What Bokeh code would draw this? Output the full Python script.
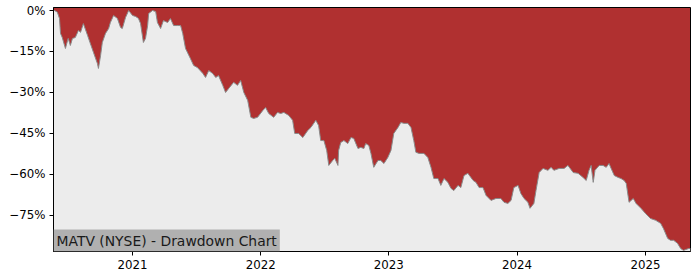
import pandas as pd
from bokeh.plotting import figure
from bokeh.models import FixedTicker, DatetimeTickFormatter, Label, Range1d
from bokeh.embed import file_html
from bokeh.resources import INLINE

dates = [
    "2020-05-21", "2020-05-24", "2020-06-01", "2020-06-07", "2020-06-10", "2020-06-15", "2020-06-24",
    "2020-06-30", "2020-07-02", "2020-07-08", "2020-07-14", "2020-07-22", "2020-07-31", "2020-08-06",
    "2020-08-14", "2020-08-26", "2020-09-03", "2020-09-12", "2020-09-23", "2020-09-26", "2020-10-02",
    "2020-10-07", "2020-10-16", "2020-10-25", "2020-10-30", "2020-11-08", "2020-11-19", "2020-11-28",
    "2020-12-03", "2020-12-12", "2020-12-21", "2021-01-01", "2021-01-10", "2021-01-18", "2021-01-24",
    "2021-02-01", "2021-02-07", "2021-02-13", "2021-02-16", "2021-02-27", "2021-03-08", "2021-03-13",
    "2021-03-22", "2021-03-30", "2021-04-11", "2021-04-19", "2021-04-28", "2021-05-09", "2021-05-18",
    "2021-05-24", "2021-06-01", "2021-06-15", "2021-06-24", "2021-07-05", "2021-07-20", "2021-07-28",
    "2021-08-06", "2021-08-17", "2021-08-26", "2021-09-03", "2021-09-15", "2021-09-23", "2021-10-02",
    "2021-10-16", "2021-10-27", "2021-11-05", "2021-11-14", "2021-11-25", "2021-12-04", "2021-12-12",
    "2021-12-23", "2022-01-07", "2022-01-15", "2022-01-24", "2022-02-07", "2022-02-18", "2022-02-27",
    "2022-03-08", "2022-03-22", "2022-04-02", "2022-04-08", "2022-04-19", "2022-05-01", "2022-05-15",
    "2022-05-24", "2022-06-07", "2022-06-15", "2022-06-21", "2022-06-30", "2022-07-08", "2022-07-14",
    "2022-07-25", "2022-07-31", "2022-08-09", "2022-08-11", "2022-08-17", "2022-08-26", "2022-09-06",
    "2022-09-15", "2022-09-23", "2022-10-05", "2022-10-13", "2022-10-22", "2022-10-27", "2022-11-05",
    "2022-11-11", "2022-11-19", "2022-12-01", "2022-12-09", "2022-12-18", "2022-12-29", "2023-01-07",
    "2023-01-15", "2023-01-27", "2023-02-04", "2023-02-13", "2023-02-24", "2023-03-05", "2023-03-13",
    "2023-03-19", "2023-03-28", "2023-04-11", "2023-04-22", "2023-05-01", "2023-05-09", "2023-05-21",
    "2023-05-29", "2023-06-07", "2023-06-18", "2023-06-27", "2023-07-05", "2023-07-17", "2023-07-25",
    "2023-08-03", "2023-08-14", "2023-08-29", "2023-09-06", "2023-09-15", "2023-09-26", "2023-10-05",
    "2023-10-19", "2023-11-02", "2023-11-16", "2023-11-25", "2023-12-06", "2023-12-15", "2023-12-23",
    "2024-01-04", "2024-01-12", "2024-01-21", "2024-02-01", "2024-02-07", "2024-02-18", "2024-02-24",
    "2024-03-04", "2024-03-15", "2024-03-29", "2024-04-07", "2024-04-15", "2024-04-30", "2024-05-14",
    "2024-05-25", "2024-06-09", "2024-06-23", "2024-07-07", "2024-07-16", "2024-07-24", "2024-07-30",
    "2024-08-05", "2024-08-10", "2024-08-22", "2024-09-02", "2024-09-11", "2024-09-19", "2024-09-25",
    "2024-10-04", "2024-10-15", "2024-10-23", "2024-11-01", "2024-11-07", "2024-11-15", "2024-11-27",
    "2024-12-05", "2024-12-19", "2025-01-01", "2025-01-15", "2025-01-30", "2025-02-13", "2025-02-21",
    "2025-03-05", "2025-03-13", "2025-03-22", "2025-04-02", "2025-04-11", "2025-04-19", "2025-05-04",
    "2025-05-09",
]

drawdown = [
    0.0, 0.0, -0.6, -2.9, -8.4, -9.9, -13.9,
    -11.0, -10.2, -12.8, -10.2, -9.9, -7.3, -8.0,
    -4.8, -9.1, -12.1, -15.4, -19.4, -21.2, -16.5,
    -11.7, -8.4, -6.6, -4.4, -1.8, -2.9, -6.2,
    -6.6, -2.6, 0.0, -1.8, -2.2, -2.9, -4.8,
    -11.7, -10.2, -5.5, -1.1, 0.0, -0.4, -4.4,
    -6.6, -3.7, -4.4, -2.9, -5.5, -5.5, -5.5,
    -8.4, -13.9, -17.6, -20.1, -20.9, -23.0, -24.5,
    -22.0, -23.0, -24.5, -23.8, -27.4, -30.0, -28.5,
    -26.3, -27.4, -25.6, -30.0, -32.9, -39.1, -39.5,
    -39.1, -36.6, -35.5, -37.7, -39.1, -37.3, -37.7,
    -37.3, -38.4, -40.2, -45.0, -45.0, -46.5, -43.9,
    -42.8, -40.2, -42.1, -47.6, -47.6, -51.2, -56.7,
    -54.9, -54.1, -56.7, -51.2, -48.3, -47.6, -48.7,
    -46.5, -46.8, -50.5, -50.1, -50.5, -48.7, -49.4,
    -52.3, -57.4, -54.9, -54.9, -56.0, -53.8, -51.2,
    -45.0, -42.8, -41.0, -41.3, -41.3, -42.8, -47.6,
    -51.9, -52.3, -52.3, -53.8, -57.4, -61.5, -61.5,
    -64.0, -61.5, -62.9, -65.1, -65.9, -64.0, -64.8,
    -60.4, -59.6, -62.2, -62.9, -64.8, -64.8, -67.7,
    -69.5, -68.8, -68.8, -70.2, -70.6, -69.5, -64.8,
    -64.0, -67.0, -68.8, -70.2, -72.4, -70.6, -65.9,
    -59.3, -57.8, -58.5, -57.4, -58.5, -57.8, -57.8,
    -56.7, -59.3, -59.6, -61.1, -62.2, -58.5, -56.7,
    -62.9, -58.5, -56.7, -56.7, -57.4, -56.0, -57.8,
    -60.4, -61.1, -61.5, -62.2, -63.3, -70.2, -68.8,
    -70.6, -72.4, -74.3, -76.1, -76.8, -77.9, -79.8,
    -83.4, -84.1, -84.1, -85.2, -87.1, -87.8, -87.1,
    -87.1,
]

ytick_values = [0, -15, -30, -45, -60, -75]
ytick_labels = ["0%", "\u221215%", "\u221230%", "\u221245%", "\u221260%", "\u221275%"]
xtick_dates = ["2021-01-01", "2022-01-01", "2023-01-01", "2024-01-01", "2025-01-01"]
title_text = "MATV (NYSE) - Drawdown Chart"

y_min, y_max = -88.2, 1.1
y_floor = -100

x = pd.to_datetime(dates)
xt = [pd.Timestamp(d).value // 10**6 for d in xtick_dates]

p = figure(width=700, height=280, x_axis_type="datetime", output_backend="svg",
           toolbar_location=None,
           x_range=Range1d(x[0], x[-1]), y_range=Range1d(y_min, y_max),
           min_border_left=53, min_border_right=10, min_border_top=7, min_border_bottom=29)

p.background_fill_color = "#B03030"
p.border_fill_color = "white"
p.outline_line_color = "black"
p.outline_line_width = 1
p.outline_line_alpha = 1
p.grid.visible = False

p.varea(x=x, y1=drawdown, y2=y_floor, fill_color="#ECECEC")
p.line(x=x, y=drawdown, line_color="#8a8a8a", line_width=1)

p.yaxis.ticker = FixedTicker(ticks=ytick_values)
p.yaxis.major_label_overrides = {v: l for v, l in zip(ytick_values, ytick_labels)}
p.xaxis.ticker = FixedTicker(ticks=xt)
p.xaxis.formatter = DatetimeTickFormatter(years="%Y", months="%Y", days="%Y", hours="%Y")

for ax in (p.xaxis[0], p.yaxis[0]):
    ax.axis_line_color = "black"
    ax.major_tick_line_color = "black"
    ax.major_tick_in = 0
    ax.major_tick_out = 4
    ax.minor_tick_line_color = None
    ax.major_label_text_font = "DejaVu Sans"
    ax.major_label_text_font_size = "11.8px"
    ax.major_label_text_color = "black"
    ax.major_label_standoff = 4

label = Label(x=x[0], y=y_min, text=title_text, text_font="DejaVu Sans",
              text_font_size="13.9px", text_color="#1a1a1a",
              background_fill_color="#B0B0B0", background_fill_alpha=1.0,
              padding=3, text_baseline="bottom", text_align="left")
p.add_layout(label)

open("out.html", "w").write(file_html(p, INLINE))
